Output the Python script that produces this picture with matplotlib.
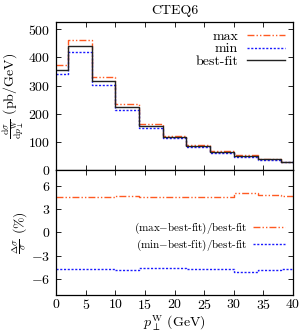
import numpy as np
import matplotlib
matplotlib.use("Agg")
import matplotlib.pyplot as plt

plt.rcParams['font.family'] = ['cmr10', 'DejaVu Serif']
plt.rcParams['mathtext.fontset'] = 'cm'
plt.rcParams['axes.formatter.use_mathtext'] = True
plt.rcParams['axes.unicode_minus'] = True

# bin edges (GeV)
edges = [0, 2, 6, 10, 14, 18, 22, 26, 30, 34, 38, 40]
# cross sections (pb/GeV)
best_fit = [357, 441, 318, 223, 156, 116, 86, 65, 50, 38, 28]
xs_max   = [372, 461, 331, 233, 164, 122, 90, 68, 53, 40, 30]
xs_min   = [340, 420, 302, 214, 150, 112, 83, 62, 47, 36, 27]
# relative deviations (%)
rel_max = [4.55, 4.55, 4.55, 4.7, 4.55, 4.55, 4.6, 4.6, 5.0, 4.8, 4.7]
rel_min = [-4.65, -4.65, -4.65, -4.75, -4.6, -4.6, -4.65, -4.65, -5.1, -4.8, -4.7]

c_max = '#FF5A22'
c_min = '#1A1AFF'
c_bf = '#222222'
ls_max = (0, (5, 1.5, 1, 1.5, 1, 1.5))
ls_min = (0, (1.5, 1.2))

def stepvals(v):
    return list(v) + [v[-1]]

fig = plt.figure(figsize=(3.0, 3.31), dpi=100)
ax1 = fig.add_axes([0.187, 0.4864, 0.790, 0.4462])
ax2 = fig.add_axes([0.187, 0.109, 0.790, 0.3774])

ax1.step(edges, stepvals(xs_max), where='post', color=c_max, ls=ls_max, lw=1.0, label='max')
ax1.step(edges, stepvals(xs_min), where='post', color=c_min, ls=ls_min, lw=1.0, label='min')
ax1.step(edges, stepvals(best_fit), where='post', color=c_bf, ls='-', lw=1.0, label='best-fit')
ax1.set_xlim(0, 40)
ax1.set_ylim(0, 525)
ax1.set_yticks([0, 100, 200, 300, 400, 500])
ax1.set_xticks(range(0, 41, 5))
ax1.tick_params(labelbottom=False)
ax1.set_ylabel(r'$\frac{\mathrm{d}\sigma}{\mathrm{d}p_\perp^\mathrm{W}}$ (pb/GeV)', fontsize=10, labelpad=2)
ax1.set_title('CTEQ6', fontsize=10, pad=6)
leg1 = ax1.legend(loc='upper right', frameon=False, markerfirst=False, fontsize=10,
                  handlelength=2.8, handletextpad=0.6, labelspacing=0.0,
                  borderaxespad=0.15)

ax2.step(edges, stepvals(rel_max), where='post', color=c_max, ls=ls_max, lw=1.0,
         label=r'(max$-$best-fit)/best-fit')
ax2.step(edges, stepvals(rel_min), where='post', color=c_min, ls=ls_min, lw=1.0,
         label=r'(min$-$best-fit)/best-fit')
ax2.set_xlim(0, 40)
ax2.set_ylim(-8, 8)
ax2.set_yticks([-6, -3, 0, 3, 6])
ax2.set_xticks(range(0, 41, 5))
ax2.set_xlabel(r'$p_\perp^\mathrm{W}$ (GeV)', fontsize=10)
ax2.xaxis.label.set_va('center')
ax2.xaxis.set_label_coords(0.5, -0.225)
ax2.set_ylabel(r'$\frac{\Delta\sigma}{\sigma}$ (%)', fontsize=10, labelpad=2)
leg2 = ax2.legend(loc='center right', bbox_to_anchor=(1.0, 0.465), frameon=False,
                  markerfirst=False, fontsize=8, handlelength=2.9,
                  handletextpad=0.5, labelspacing=0.1, borderaxespad=0.3)

for ax in (ax1, ax2):
    ax.tick_params(direction='in', top=True, right=True, length=3.5, width=0.6,
                   labelsize=10, pad=4)
    for s in ax.spines.values():
        s.set_linewidth(0.9)
ax2.tick_params(axis='x', pad=2.5)

fig.savefig('out.png', dpi=100)
